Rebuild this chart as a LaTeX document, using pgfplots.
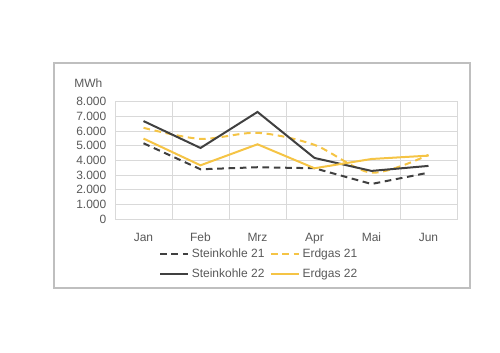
\documentclass[border=0pt]{standalone}
\usepackage{pgfplots}
\pgfplotsset{compat=1.18}
\usepackage{fontspec}
\setmainfont{Liberation Sans}
\definecolor{dk}{HTML}{404040}
\definecolor{yl}{HTML}{F5C445}
\definecolor{tx}{HTML}{595959}
\definecolor{gr}{HTML}{D9D9D9}
\definecolor{fr}{HTML}{BFBFBF}
\begin{document}
\begin{tikzpicture}[x=0.75pt,y=0.75pt]
\path (0,0) rectangle (500,353);
\draw[fr, line width=1pt] (54,65) rectangle (470,290);
\node[anchor=west, text=tx, font=\fontsize{9}{10}\selectfont, inner sep=0pt] at (74,270) {MWh};
\begin{axis}[
  at={(86.25pt,100.3pt)}, anchor=south west,
  scale only axis, width=256.5pt, height=88.2pt,
  xmin=-0.5, xmax=5.5, ymin=0, ymax=8000,
  xtick={0,1,2,3,4,5},
  xticklabels={Jan,Feb,Mrz,Apr,Mai,Jun},
  minor xtick={-0.5,0.5,1.5,2.5,3.5,4.5,5.5},
  ytick={0,1000,...,8000},
  xminorgrids, ymajorgrids,
  grid style={gr, line width=0.6pt},
  minor grid style={gr, line width=0.6pt},
  axis line style={gr, line width=0.6pt},
  major tick length=0pt, minor tick length=0pt,
  tick label style={text=tx, font=\fontsize{9}{10}\selectfont},
  /pgf/number format/assume math mode=true,
  /pgf/number format/.cd, 1000 sep={.}, /pgfplots/.cd,
  scaled y ticks=false,
  yticklabel style={xshift=-3pt},
  xticklabel style={yshift=-5pt, text height=1.6ex, text depth=0.3ex},
  legend columns=2,
  legend style={draw=none, fill=none, at={(0.4225,-0.225)}, anchor=north,
    font=\fontsize{9}{10}\selectfont, text=tx,
    /tikz/every even column/.append style={column sep=2pt},
    row sep=3pt, inner sep=0pt},
  legend image code/.code={\draw[#1] (0pt,0pt) -- (21pt,0pt);},
]
\addplot[dk, line width=1.5pt, dash pattern=on 5pt off 3.5pt] coordinates {(0,5170) (1,3400) (2,3540) (3,3470) (4,2400) (5,3170)};
\addlegendentry{Steinkohle 21}
\addplot[yl, line width=1.5pt, dash pattern=on 5pt off 3.5pt, smooth, tension=0.5] coordinates {(0,6220) (1,5470) (2,5880) (3,5060) (4,3170) (5,4380)};
\addlegendentry{Erdgas 21}
\addplot[dk, line width=1.5pt] coordinates {(0,6680) (1,4850) (2,7300) (3,4170) (4,3290) (5,3630)};
\addlegendentry{Steinkohle 22}
\addplot[yl, line width=1.5pt] coordinates {(0,5490) (1,3670) (2,5100) (3,3470) (4,4100) (5,4330)};
\addlegendentry{Erdgas 22}
\end{axis}
\end{tikzpicture}
\end{document}
